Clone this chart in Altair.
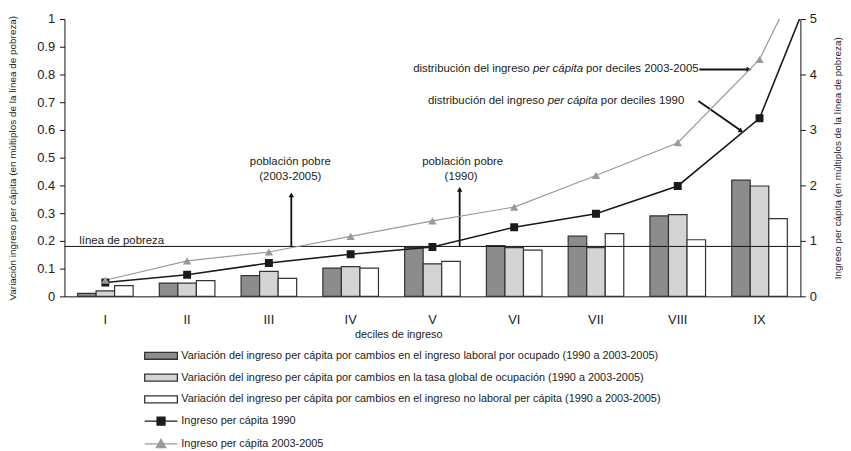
import altair as alt
import pandas as pd

FONT = "Liberation Sans"

# ---------------- data ----------------
deciles = ["I", "II", "III", "IV", "V", "VI", "VII", "VIII", "IX"]
laboral = [0.011, 0.048, 0.075, 0.102, 0.176, 0.183, 0.217, 0.290, 0.419]
tasa = [0.020, 0.048, 0.090, 0.107, 0.117, 0.176, 0.176, 0.295, 0.398]
no_laboral = [0.039, 0.057, 0.065, 0.102, 0.126, 0.167, 0.226, 0.204, 0.280]

decil_num = [1, 2, 3, 4, 5, 6, 7, 8, 9, 10]
ingreso_1990 = [0.25, 0.39, 0.60, 0.76, 0.89, 1.245, 1.49, 1.99, 3.21, 6.87]
ingreso_2003 = [0.29, 0.64, 0.80, 1.08, 1.36, 1.61, 2.18, 2.77, 4.27, 7.29]

linea_pobreza = 0.18

keys = ["a", "b", "c", "d", "e"]
labels = [
    "Variación del ingreso per cápita por cambios en el ingreso laboral por ocupado  (1990  a  2003-2005)",
    "Variación del ingreso per cápita por cambios en la tasa global de ocupación  (1990  a  2003-2005)",
    "Variación del ingreso per cápita por cambios en el ingreso no laboral per cápita  (1990  a  2003-2005)",
    "Ingreso per cápita 1990",
    "Ingreso per cápita 2003-2005",
]
fill_colors = ["#8c8c8c", "#d4d4d4", "#ffffff", "#1a1a1a", "#9a9a9a"]
stroke_colors = ["#333333", "#333333", "#333333", "#1a1a1a", "#9a9a9a"]
rect_path = "M-3.3,-0.7H3.3V0.7H-3.3Z"
sq_path = "M-3.3,0H3.3M-0.8,-0.8H0.8V0.8H-0.8Z"
tri_path = "M-3.3,0H3.3M0,-0.95L0.95,0.72H-0.95Z"
legend_shapes = [rect_path, rect_path, rect_path, sq_path, tri_path]

# annotation texts (x in decile units, y in left-axis units)
txt_center = ["población pobre", "(2003-2005)", "población pobre", "(1990)"]
txt_center_x = [3.262, 3.262, 5.37, 5.35]
txt_center_y = [0.484, 0.432, 0.484, 0.432]

txt_left = ["línea de pobreza", "distribución del ingreso", "por deciles 2003-2005",
            "distribución del ingreso", "por deciles 1990"]
txt_left_x = [0.682, 4.764, 6.878, 4.946, 7.059]
txt_left_y = [0.2, 0.818, 0.818, 0.704, 0.704]

txt_ital = ["per cápita", "per cápita"]
txt_ital_x = [6.230, 6.409]
txt_ital_y = [0.818, 0.704]

# rules: poverty line and arrows
rule_x = [0.5, 3.274, 5.333, 8.264, 8.252]
rule_x2 = [9.5, 3.274, 5.333, 8.86, 8.77]
rule_y = [linea_pobreza, linea_pobreza, linea_pobreza, 0.818, 0.704]
rule_y2 = [linea_pobreza, 0.36, 0.38, 0.818, 0.598]
rule_w = [1.0, 1.8, 1.8, 1.8, 1.8]

head_x = [3.274, 5.333, 8.87, 8.775]
head_y = [0.366, 0.386, 0.818, 0.596]
head_shape = ["triangle-up", "triangle-up", "triangle-right", "triangle-right"]
head_angle = [0, 0, 0, 34.6]

# ---------------- tables ----------------
bars = pd.DataFrame({
    "decil": deciles * 3,
    "serie": ["a"] * 9 + ["b"] * 9 + ["c"] * 9,
    "valor": laboral + tasa + no_laboral,
})
lines = pd.DataFrame({
    "x": decil_num * 2,
    "serie": ["d"] * 10 + ["e"] * 10,
    "valor": ingreso_1990 + ingreso_2003,
    "marcador": ["square"] * 10 + ["triangle-up"] * 10,
})
leg = pd.DataFrame({"serie": keys, "lx": [1] * 5, "ly": [0] * 5})
tc = pd.DataFrame({"t": txt_center, "x": txt_center_x, "y": txt_center_y})
tl = pd.DataFrame({"t": txt_left, "x": txt_left_x, "y": txt_left_y})
ti = pd.DataFrame({"t": txt_ital, "x": txt_ital_x, "y": txt_ital_y})
rules = pd.DataFrame({"x": rule_x, "x2": rule_x2, "y": rule_y, "y2": rule_y2, "w": rule_w})
heads = pd.DataFrame({"x": head_x, "y": head_y, "s": head_shape, "a": head_angle})

# ---------------- scales / legend ----------------
fill_scale = alt.Scale(domain=keys, range=fill_colors)
stroke_scale = alt.Scale(domain=keys, range=stroke_colors)
shape_scale = alt.Scale(domain=keys, range=legend_shapes)

label_expr = " : ".join(
    f"datum.value == '{k}' ? '{l}'" for k, l in zip(keys[:-1], labels[:-1])
) + f" : '{labels[-1]}'"

legend_def = alt.Legend(
    title=None, orient="none", legendX=91.5, legendY=334, direction="vertical",
    labelExpr=label_expr, labelFont=FONT, labelFontSize=11, labelColor="#222222",
    symbolSize=100, symbolStrokeWidth=1.3, symbolOpacity=1, rowPadding=8,
    labelOffset=14.5, padding=0, labelLimit=900,
)

xq = alt.Scale(domain=[0.5, 9.5], nice=False, zero=False)
yl = alt.Scale(domain=[0, 1], nice=False)
yr = alt.Scale(domain=[0, 5], nice=False)

# ---------------- layers ----------------
bar_layer = alt.Chart(bars).mark_bar(stroke="#333333", strokeWidth=1.2).encode(
    x=alt.X("decil:N", sort=deciles,
            scale=alt.Scale(domain=deciles, paddingInner=0.32, paddingOuter=0.16),
            axis=alt.Axis(title="deciles de ingreso", labelAngle=0, ticks=False,
                          labelPadding=17, labelFontSize=13, titleFontSize=11,
                          titleFontWeight="normal", titlePadding=3, titleX=337)),
    xOffset=alt.XOffset("serie:N", sort=["a", "b", "c"],
                        scale=alt.Scale(domain=["a", "b", "c"], paddingInner=0, paddingOuter=0)),
    y=alt.Y("valor:Q", scale=yl,
            axis=alt.Axis(orient="left", values=[round(i * 0.1, 1) for i in range(11)],
                          format=".1~f", tickSize=5, labelPadding=5, labelFontSize=13,
                          title="Variación ingreso per cápita (en múltiplos de la línea de pobreza)",
                          titleFontSize=10, titleFontWeight="normal", titlePadding=19)),
    fill=alt.Fill("serie:N", scale=fill_scale, legend=legend_def),
)

rule_layer = alt.Chart(rules).mark_rule(color="#111111").encode(
    x=alt.X("x:Q", scale=xq, axis=None), x2="x2:Q",
    y=alt.Y("y:Q", scale=yl, axis=None), y2="y2:Q",
    strokeWidth=alt.StrokeWidth("w:Q", scale=None),
)

head_layer = alt.Chart(heads).mark_point(filled=True, color="#111111", size=30, opacity=1).encode(
    x=alt.X("x:Q", scale=xq, axis=None),
    y=alt.Y("y:Q", scale=yl, axis=None),
    shape=alt.Shape("s:N", scale=None),
    angle=alt.Angle("a:Q", scale=None),
)

line_layer = alt.Chart(lines).mark_line(clip=True).encode(
    x=alt.X("x:Q", scale=xq, axis=None),
    y=alt.Y("valor:Q", scale=yr,
            axis=alt.Axis(orient="right", values=[0, 1, 2, 3, 4, 5], tickSize=5,
                          labelPadding=4, labelFontSize=13,
                          title="Ingreso per cápita (en múltiplos de la línea de pobreza)",
                          titleFontSize=10, titleFontWeight="normal", titleAngle=270,
                          titleBaseline="top", titlePadding=16)),
    stroke=alt.Stroke("serie:N", scale=stroke_scale, legend=legend_def),
    strokeWidth=alt.StrokeWidth("serie:N", scale=alt.Scale(domain=["d", "e"], range=[1.6, 1.2]),
                                legend=None),
    detail="serie:N",
)

marker_layer = alt.Chart(lines).mark_point(filled=True, clip=True, opacity=1).encode(
    x=alt.X("x:Q", scale=xq, axis=None),
    y=alt.Y("valor:Q", scale=yr, axis=None),
    fill=alt.Fill("serie:N", scale=fill_scale, legend=legend_def),
    shape=alt.Shape("marcador:N", scale=None),
    size=alt.Size("serie:N", scale=alt.Scale(domain=["d", "e"], range=[64, 70]), legend=None),
)

text_c = alt.Chart(tc).mark_text(font=FONT, fontSize=11.5, align="center", baseline="middle",
                                 color="#222222").encode(
    x=alt.X("x:Q", scale=xq, axis=None), y=alt.Y("y:Q", scale=yl, axis=None), text="t:N")
text_l = alt.Chart(tl).mark_text(font=FONT, fontSize=11.5, align="left", baseline="middle",
                                 color="#222222").encode(
    x=alt.X("x:Q", scale=xq, axis=None), y=alt.Y("y:Q", scale=yl, axis=None), text="t:N")
text_i = alt.Chart(ti).mark_text(font=FONT, fontSize=11.5, align="left", baseline="middle",
                                 fontStyle="italic", color="#222222").encode(
    x=alt.X("x:Q", scale=xq, axis=None), y=alt.Y("y:Q", scale=yl, axis=None), text="t:N")

legend_layer = alt.Chart(leg).mark_point(filled=True, opacity=0).encode(
    x=alt.X("lx:Q", scale=xq, axis=None),
    y=alt.Y("ly:Q", scale=yl, axis=None),
    fill=alt.Fill("serie:N", scale=fill_scale, legend=legend_def),
    stroke=alt.Stroke("serie:N", scale=stroke_scale, legend=legend_def),
    shape=alt.Shape("serie:N", scale=shape_scale, legend=legend_def),
)

chart = alt.layer(
    bar_layer, rule_layer, head_layer, line_layer, marker_layer,
    text_c, text_l, text_i, legend_layer,
).resolve_scale(x="independent", y="independent").properties(
    width=743, height=280,
    autosize=alt.AutoSizeParams(type="none"),
    padding={"left": 57, "top": 9, "right": 43, "bottom": 153},
).configure_view(stroke=None).configure_axis(
    grid=False, domainColor="#111111", tickColor="#111111", labelColor="#222222",
    titleColor="#222222", labelFont=FONT, titleFont=FONT, domainWidth=1,
).configure_legend(labelFont=FONT)

chart.save("out.html", embed_options={"renderer": "svg", "actions": False})
